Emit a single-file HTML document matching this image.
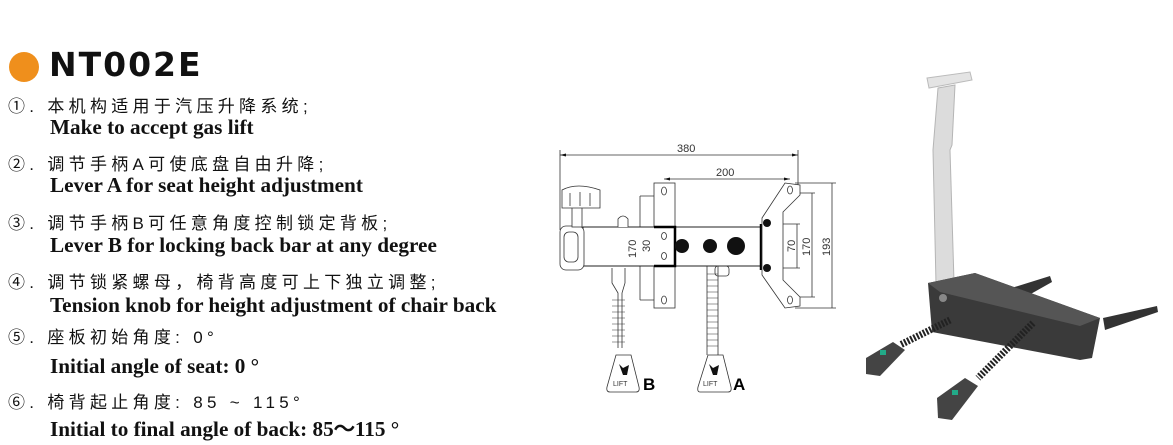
<!DOCTYPE html>
<html><head><meta charset="utf-8"><style>
body{margin:0;width:1173px;height:445px;background:#fff;position:relative;overflow:hidden;font-family:"Liberation Sans","Noto Sans CJK SC",sans-serif}
.t{position:absolute;white-space:nowrap;color:#111}
.cn{font-size:17px;letter-spacing:4.3px;left:8px}
.en{font-family:"Liberation Serif",serif;font-weight:bold;font-size:21.2px;left:50px}
</style></head><body>
<div style="position:absolute;left:9px;top:52px;width:30px;height:30px;border-radius:50%;background:#ef8f1c"></div>
<div class="t" style="left:49px;top:45px;font-size:33px;font-weight:bold;letter-spacing:2px;font-family:'DejaVu Sans','Liberation Sans',sans-serif">NT002E</div>
<div class="t cn" style="top:92px">①. 本机构适用于汽压升降系统;</div>
<div class="t en" style="top:115px">Make to accept gas lift</div>
<div class="t cn" style="top:150px">②. 调节手柄A可使底盘自由升降;</div>
<div class="t en" style="top:173px">Lever A for seat height adjustment</div>
<div class="t cn" style="top:209px">③. 调节手柄B可任意角度控制锁定背板;</div>
<div class="t en" style="top:233px">Lever B for locking back bar at any degree</div>
<div class="t cn" style="top:268px">④. 调节锁紧螺母，椅背高度可上下独立调整;</div>
<div class="t en" style="top:293px">Tension knob for height adjustment of chair back</div>
<div class="t cn" style="top:323px">⑤. 座板初始角度: 0°</div>
<div class="t en" style="top:354px">Initial angle of seat: 0 °</div>
<div class="t cn" style="top:388px">⑥. 椅背起止角度: 85 ~ 115°</div>
<div class="t en" style="top:412px">Initial to final angle of back: 85～115 °</div>

<svg width="1173" height="445" style="position:absolute;left:0;top:0" xmlns="http://www.w3.org/2000/svg">
<g stroke="#333" stroke-width="0.8" fill="none">
<line x1="560" y1="155" x2="798" y2="155"/><line x1="560" y1="150" x2="560" y2="230"/><line x1="798" y1="150" x2="798" y2="185"/>
<line x1="664" y1="179" x2="790" y2="179"/>
<line x1="640" y1="196" x2="640" y2="300"/><line x1="640" y1="196" x2="665" y2="196"/><line x1="640" y1="300" x2="665" y2="300"/>
<line x1="797" y1="224" x2="797" y2="268"/><line x1="767" y1="224" x2="800" y2="224"/><line x1="767" y1="268" x2="800" y2="268"/>
<line x1="812" y1="193" x2="812" y2="297"/><line x1="790" y1="193" x2="815" y2="193"/><line x1="790" y1="297" x2="815" y2="297"/>
<line x1="832" y1="183" x2="832" y2="308"/><line x1="795" y1="183" x2="836" y2="183"/><line x1="795" y1="308" x2="836" y2="308"/>
<rect x="654" y="183" width="21" height="125" fill="#fff"/>
<rect x="583" y="227" width="178" height="39" fill="#fff" stroke="#222" stroke-width="1"/>
<path d="M654 227h21v39h-21" stroke="#000" stroke-width="2.5"/>
<line x1="761" y1="224" x2="761" y2="270" stroke="#000" stroke-width="2.5"/>
<ellipse cx="664" cy="191" rx="2.5" ry="4"/><ellipse cx="664" cy="300" rx="2.5" ry="4"/>
<ellipse cx="664" cy="236" rx="2.5" ry="3.5"/><ellipse cx="664" cy="256" rx="2.5" ry="3.5"/>
<rect x="560" y="226" width="24" height="44" rx="6" fill="#fff"/>
<rect x="564" y="232" width="14" height="30" rx="5"/>
<rect x="572" y="205" width="10" height="22" fill="#fff"/>
<path d="M562 190q15-8 38 0v18h-38z" fill="#fff"/>
<line x1="570" y1="193" x2="570" y2="206"/><line x1="580" y1="192" x2="580" y2="206"/><line x1="590" y1="193" x2="590" y2="206"/>
<path d="M618 227v-8q5-6 10 0v8" fill="#fff"/>
<path d="M762 218 L785 183 L800 185 L800 195 L783 212 L783 280 L800 297 L800 306 L785 308 L762 275 Z" fill="#fff"/>
<ellipse cx="790" cy="190" rx="2.5" ry="4"/><ellipse cx="790" cy="300" rx="2.5" ry="4"/>
<path d="M612 268v15l6 10v55M625 268v15l-3 10v55" fill="#fff"/>
<path d="M612 300h13M612 306h13M612 312h13M612 318h13M612 324h13M612 330h13M612 336h13M612 342h13" stroke-width="0.6"/>
<path d="M610 392h26q4 0 3-5l-8-32h-15l-9 32q-1 5 3 5z" fill="#fff"/>
<path d="M707 266v89M718 266v89" />
<path d="M707 274h11M707 280h11M707 286h11M707 292h11M707 298h11M707 304h11M707 310h11M707 316h11M707 322h11M707 328h11M707 334h11M707 340h11M707 346h11" stroke-width="0.6"/>
<rect x="715" y="266" width="14" height="10" rx="3"/>
<path d="M700 392h28q4 0 3-5l-8-32h-15l-10 32q-1 5 2 5z" fill="#fff"/>
</g>
<g fill="#111">
<circle cx="682" cy="246" r="7"/><circle cx="710" cy="246" r="7"/><circle cx="736" cy="246" r="9"/>
<circle cx="767" cy="223" r="4"/><circle cx="767" cy="268" r="4"/>
<path d="M619 364l4 4 6-3-2 10h-4z"/><path d="M709 364l4 4 6-3-2 10h-4z"/>
<path d="M560 155l6-1.5v3zM798 155l-6-1.5v3zM664 179l6-1.5v3zM790 179l-6-1.5v3z"/>
</g>
<g font-family="Liberation Sans,sans-serif" font-size="11" fill="#333">
<text x="677" y="152">380</text><text x="716" y="176">200</text>
<text transform="translate(636,258) rotate(-90)">170</text>
<text transform="translate(650,252) rotate(-90)">30</text>
<text transform="translate(795,252) rotate(-90)">70</text>
<text transform="translate(810,256) rotate(-90)">170</text>
<text transform="translate(830,256) rotate(-90)">193</text>
<text x="613" y="386" font-size="7">LIFT</text><text x="703" y="386" font-size="7">LIFT</text>
<text x="643" y="390" font-size="17" font-weight="bold" fill="#000">B</text>
<text x="733" y="390" font-size="17" font-weight="bold" fill="#000">A</text>
</g>
<g>
<polygon points="927,78 970,72 972,80 929,88" fill="#e4e4e4" stroke="#bbb"/>
<path d="M938 88 L955 85 L952 145 L950 150 L954 282 L936 284 L933 150 Z" fill="#dcdcdc" stroke="#b5b5b5"/>
<polygon points="1103,318 1157,306 1158,312 1105,330" fill="#333"/>
<polygon points="1005,290 1050,276 1052,282 1020,300" fill="#333"/>
<polygon points="928,283 975,273 1100,318 1092,358 1080,360 932,332" fill="#3a3a3a"/>
<polygon points="928,283 975,273 1100,318 1080,326 940,292" fill="#555"/>
<circle cx="943" cy="298" r="4" fill="#888"/>
<line x1="950" y1="320" x2="900" y2="345" stroke="#222" stroke-width="7" stroke-dasharray="2 1.5"/>
<line x1="1033" y1="323" x2="978" y2="378" stroke="#222" stroke-width="7" stroke-dasharray="2 1.5"/>
<path d="M866 358 L893 342 L905 350 L880 376 L866 374 Z" fill="#444"/>
<path d="M937 398 L965 378 L978 386 L952 420 L938 418 Z" fill="#444"/>
<rect x="880" y="350" width="6" height="5" fill="#2a8"/><rect x="952" y="390" width="6" height="5" fill="#2a8"/>
</g>
</svg>
</body></html>
